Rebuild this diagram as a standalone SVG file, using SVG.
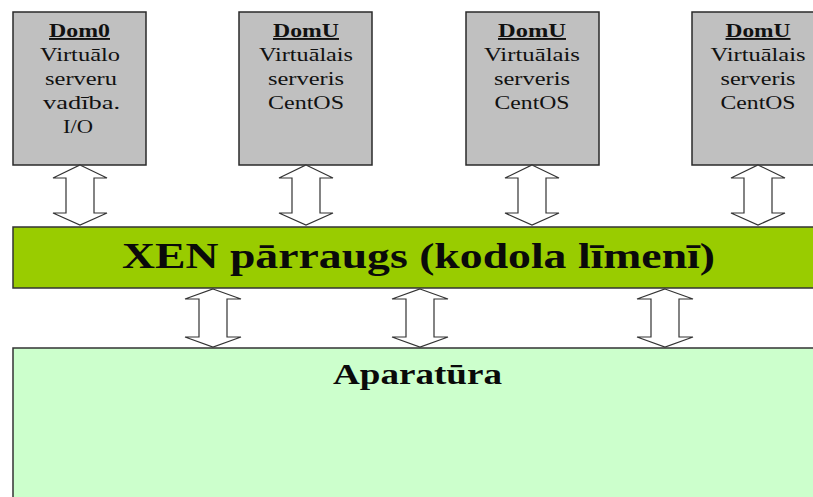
<svg xmlns="http://www.w3.org/2000/svg" width="813" height="497" viewBox="0 0 813 497">
<style>
.box{fill:#c0c0c0;stroke:#2a2a2a;stroke-width:1.5}
.t{font-family:"Liberation Serif","Times New Roman",serif;font-size:18px;fill:#111;text-anchor:middle}
.h{font-weight:bold;text-decoration:underline;font-size:19px}
.arr{fill:#fff;stroke:#333;stroke-width:1.2;stroke-linejoin:miter}
.big{font-family:"Liberation Serif","Times New Roman",serif;font-weight:bold;fill:#0a0a0a;text-anchor:middle}
</style>
<rect width="813" height="497" fill="#fff"/>
<g id="hardware">
<rect x="13" y="348" width="820" height="160" fill="#ccffcc" stroke="#333" stroke-width="1.5"/>
<text class="big" x="417.5" y="384" font-size="30" textLength="169" lengthAdjust="spacingAndGlyphs">Aparatūra</text>
</g>
<g id="xen">
<rect x="13" y="227" width="820" height="61" fill="#99cc00" stroke="#333" stroke-width="1.5"/>
<text class="big" x="418.5" y="268" font-size="35" textLength="593" lengthAdjust="spacingAndGlyphs">XEN pārraugs (kodola līmenī)</text>
</g>
<g id="dom0">
<rect class="box" x="13" y="12" width="133" height="153"/>
<text class="t h" x="79.5" y="37" textLength="61" lengthAdjust="spacingAndGlyphs">Dom0</text>
<text class="t" x="80" y="61" textLength="80" lengthAdjust="spacingAndGlyphs">Virtuālo</text>
<text class="t" x="81" y="85" textLength="72" lengthAdjust="spacingAndGlyphs">serveru</text>
<text class="t" x="81.5" y="109" textLength="77" lengthAdjust="spacingAndGlyphs">vadība.</text>
<text class="t" x="78" y="133" textLength="30" lengthAdjust="spacingAndGlyphs">I/O</text>
</g>
<g id="domu1">
<rect class="box" x="239" y="12" width="133" height="153"/>
<text class="t h" x="306" y="37" textLength="66" lengthAdjust="spacingAndGlyphs">DomU</text>
<text class="t" x="306" y="61" textLength="94" lengthAdjust="spacingAndGlyphs">Virtuālais</text>
<text class="t" x="306" y="85" textLength="76" lengthAdjust="spacingAndGlyphs">serveris</text>
<text class="t" x="306" y="109" textLength="76" lengthAdjust="spacingAndGlyphs">CentOS</text>
</g>
<g id="domu2">
<rect class="box" x="466" y="12" width="133" height="153"/>
<text class="t h" x="532" y="37" textLength="68" lengthAdjust="spacingAndGlyphs">DomU</text>
<text class="t" x="532" y="61" textLength="96" lengthAdjust="spacingAndGlyphs">Virtuālais</text>
<text class="t" x="532" y="85" textLength="76" lengthAdjust="spacingAndGlyphs">serveris</text>
<text class="t" x="532" y="109" textLength="75" lengthAdjust="spacingAndGlyphs">CentOS</text>
</g>
<g id="domu3">
<rect class="box" x="692" y="12" width="133" height="153"/>
<text class="t h" x="758" y="37" textLength="65" lengthAdjust="spacingAndGlyphs">DomU</text>
<text class="t" x="758" y="61" textLength="95" lengthAdjust="spacingAndGlyphs">Virtuālais</text>
<text class="t" x="758" y="85" textLength="75" lengthAdjust="spacingAndGlyphs">serveris</text>
<text class="t" x="758" y="109" textLength="75" lengthAdjust="spacingAndGlyphs">CentOS</text>
</g>
<g id="connectors">
<path class="arr" d="M80,165 L107,178 L94,178 L94,213 L107,213 L80,225 L53,213 L66,213 L66,178 L53,178 Z"/>
<path class="arr" d="M306,165 L333,178 L320,178 L320,213 L333,213 L306,225 L279,213 L292,213 L292,178 L279,178 Z"/>
<path class="arr" d="M532,165 L559,178 L546,178 L546,213 L559,213 L532,225 L505,213 L518,213 L518,178 L505,178 Z"/>
<path class="arr" d="M758,165 L785,178 L772,178 L772,213 L785,213 L758,225 L731,213 L744,213 L744,178 L731,178 Z"/>
<path class="arr" d="M213,289 L241,299 L227,299 L227,337 L241,337 L213,347 L185,337 L199,337 L199,299 L185,299 Z"/>
<path class="arr" d="M420,289 L448,299 L434,299 L434,337 L448,337 L420,347 L392,337 L406,337 L406,299 L392,299 Z"/>
<path class="arr" d="M665,289 L693,299 L679,299 L679,337 L693,337 L665,347 L637,337 L651,337 L651,299 L637,299 Z"/>
</g>
</svg>
